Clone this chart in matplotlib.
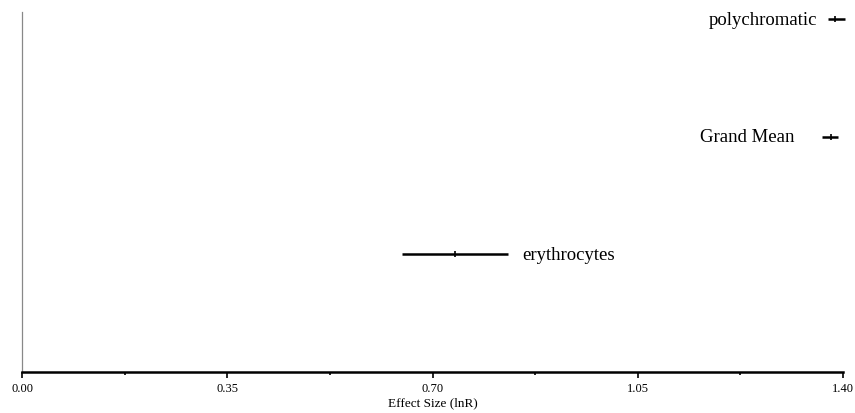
import matplotlib.pyplot as plt
from matplotlib.ticker import MultipleLocator

# effect sizes
labels = ["erythrocytes", "Grand Mean", "polychromatic"]
means = [0.738, 1.380, 1.386]
lower = [0.648, 1.364, 1.375]
upper = [0.829, 1.392, 1.404]
rows = [1, 2, 3]

# label placement: side of the bar and gap in points
label_side = ["right", "left", "left"]
label_gap = [10, 20, 8]

plt.rcParams["font.family"] = ["Liberation Serif", "DejaVu Serif"]

fig = plt.figure(figsize=(8.55, 4.14), dpi=100)
ax = fig.add_axes([22 / 855, 1 - 373 / 414, (843 - 22) / 855, (373 - 13) / 414])

for y, m, lo, hi, lab, side, gap in zip(rows, means, lower, upper, labels, label_side, label_gap):
    ax.plot([lo, hi], [y, y], color="black", lw=1.8, solid_capstyle="butt", clip_on=False)
    ax.plot([m], [y], marker="|", color="black", ms=5, mew=1.2, clip_on=False)
    if side == "right":
        ax.annotate(lab, (hi, y), xytext=(gap, 0), textcoords="offset points",
                    ha="left", va="center", fontsize=13.5)
    else:
        ax.annotate(lab, (lo, y), xytext=(-gap, 0), textcoords="offset points",
                    ha="right", va="center", fontsize=13.5)

ax.set_xlim(0, 1.40)
ax.set_ylim(0, 3.06)
ax.xaxis.set_major_locator(MultipleLocator(0.35))
ax.xaxis.set_minor_locator(MultipleLocator(0.175))
ax.xaxis.set_major_formatter(plt.FormatStrFormatter("%.2f"))
ax.tick_params(axis="x", which="major", length=4, width=1.2, direction="out",
               labelsize=9, pad=3)
ax.tick_params(axis="x", which="minor", length=2.5, width=1.2, direction="out")
ax.set_yticks([])

for s in ["top", "right"]:
    ax.spines[s].set_visible(False)
ax.spines["bottom"].set_linewidth(1.8)
ax.spines["left"].set_color("#888888")
ax.spines["left"].set_linewidth(0.9)

ax.set_xlabel("Effect Size (lnR)", fontsize=9.5, labelpad=2)

fig.savefig("out.png", dpi=100)
